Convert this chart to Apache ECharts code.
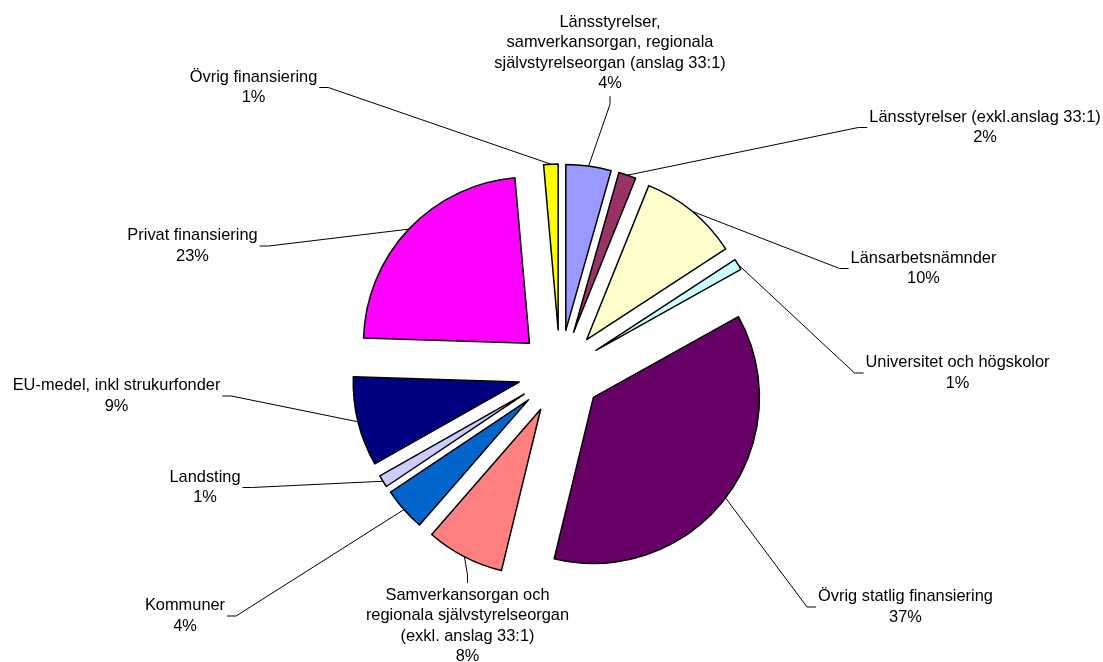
<!DOCTYPE html>
<html>
<head>
<meta charset="utf-8">
<title>Finansiering</title>
<script src="https://cdn.jsdelivr.net/npm/echarts@6/dist/echarts.min.js"></script>
<style>
  html, body { margin: 0; padding: 0; background: #fff; }
  #chart { width: 1103px; height: 662px; }
</style>
</head>
<body>
<div id="chart"></div>
<script>
// slices clockwise from 12 o'clock
const names = [
  'Länsstyrelser,\nsamverkansorgan, regionala\nsjälvstyrelseorgan (anslag 33:1)',
  'Länsstyrelser (exkl.anslag 33:1)',
  'Länsarbetsnämnder',
  'Universitet och högskolor',
  'Övrig statlig finansiering',
  'Samverkansorgan och\nregionala självstyrelseorgan\n(exkl. anslag 33:1)',
  'Kommuner',
  'Landsting',
  'EU-medel, inkl strukurfonder',
  'Privat finansiering',
  'Övrig finansiering'
]
const values = [4.4, 1.7, 9.7, 1.1, 36.9, 7.6, 4.2, 1.2, 8.7, 23.1, 1.4]
const colors = [
  '#9999ff', '#993366', '#ffffcc', '#ccffff', '#660066', '#ff8080',
  '#0066cc', '#ccccff', '#000080', '#ff00ff', '#ffff00'
]

// where each label sits (centre of the text block) and which side the leader line meets
const labelCenters = [
  [610, 53], [985, 127.5], [923.5, 268.5], [957.5, 373], [905.5, 607],
  [467.5, 626], [185, 616], [205, 487.5], [116.5, 396], [192.5, 246], [253.5, 87.5]
]
const labelSides = ['bottom', 'left', 'left', 'left', 'left', 'top', 'right', 'right', 'right', 'right', 'right']

const pieCenter = [560, 372]
const pieRadius = 166
const explode = 42
const font = '"Liberation Sans", Arial, sans-serif'

const total = values.reduce((a, b) => a + b, 0)

// every slice is pulled out: one pie per slice, shifted along its own mid angle
const series = []
let acc = 0
for (let i = 0; i < values.length; i++) {
  const mid = (acc + values[i] / 2) / total * Math.PI * 2
  acc += values[i]
  const cx = pieCenter[0] + explode * Math.sin(mid)
  const cy = pieCenter[1] - explode * Math.cos(mid)
  series.push({
    type: 'pie',
    center: [cx, cy],
    radius: pieRadius,
    startAngle: 90,
    clockwise: true,
    silent: true,
    avoidLabelOverlap: false,
    percentPrecision: 0,
    emphasis: { disabled: true },
    data: values.map((v, j) => {
      const own = j === i
      return {
        name: names[j],
        value: v,
        itemStyle: own
          ? { color: colors[j], borderColor: '#000', borderWidth: 1.5 }
          : { color: 'rgba(0,0,0,0)', borderWidth: 0 },
        label: { show: own },
        labelLine: { show: own }
      }
    }),
    label: {
      position: 'outside',
      formatter: '{b}\n{d}%',
      color: '#000',
      fontFamily: font,
      fontSize: 16.4,
      lineHeight: 20.6,
      align: 'center'
    },
    labelLine: {
      show: true,
      length: 20,
      length2: 10,
      lineStyle: { color: '#000', width: 1 }
    },
    labelLayout: function (p) {
      if (p.dataIndex !== i) return {}
      const c = labelCenters[i]
      const w = p.labelRect.width
      const h = p.labelRect.height
      let end, elbow
      switch (labelSides[i]) {
        case 'left':
          end = [c[0] - w / 2 - 2, c[1]]
          elbow = [end[0] - 9, end[1]]
          break
        case 'right':
          end = [c[0] + w / 2 + 2, c[1]]
          elbow = [end[0] + 9, end[1]]
          break
        case 'top':
          end = [c[0], c[1] - h / 2 - 2]
          elbow = [end[0], end[1] - 8]
          break
        default:
          end = [c[0], c[1] + h / 2 + 2]
          elbow = [end[0], end[1] + 8]
      }
      const start = p.labelLinePoints ? p.labelLinePoints[0] : elbow
      return {
        x: c[0],
        y: c[1],
        align: 'center',
        verticalAlign: 'middle',
        hideOverlap: false,
        labelLinePoints: [start, elbow, end]
      }
    }
  })
}

const chart = echarts.init(document.getElementById('chart'))
chart.setOption({
  animation: false,
  backgroundColor: '#fff',
  series: series
})
</script>
</body>
</html>
